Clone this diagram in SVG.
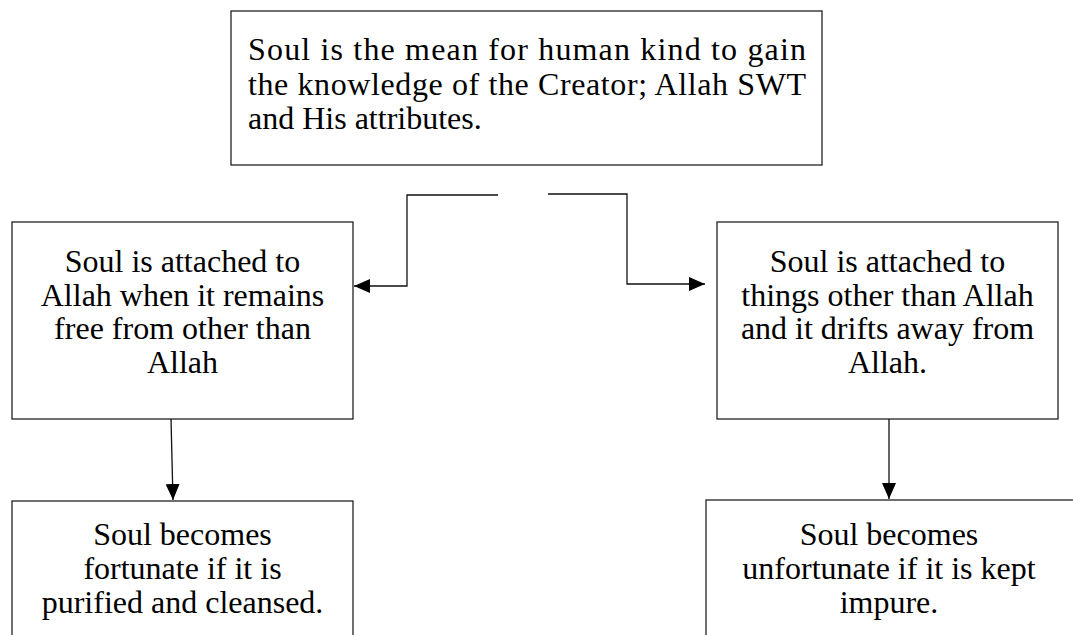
<svg xmlns="http://www.w3.org/2000/svg" width="1073" height="635" viewBox="0 0 1073 635">
<style>
.box{fill:#fff;stroke:#222;stroke-width:1.3}
.ln{fill:none;stroke:#111;stroke-width:1.3}
</style>
<defs>
<marker id="ah" markerUnits="userSpaceOnUse" markerWidth="16" markerHeight="14" refX="16" refY="7" orient="auto">
<path d="M0,0 L16,7 L0,14 Z" fill="#000"/>
</marker>
</defs>
<rect width="1073" height="635" fill="#fff"/>
<g id="top">
<rect class="box" x="231" y="11" width="591" height="154"/>
<text x="248" y="60" font-family="Liberation Serif" font-size="32" textLength="558" lengthAdjust="spacing">Soul is the mean for human kind to gain</text>
<text x="248" y="95" font-family="Liberation Serif" font-size="32" textLength="558" lengthAdjust="spacing">the knowledge of the Creator; Allah SWT</text>
<text x="248" y="129" font-family="Liberation Serif" font-size="32">and His attributes.</text>
</g>
<g id="left-mid">
<rect class="box" x="12" y="222" width="341" height="197"/>
<text x="182.5" y="272" font-family="Liberation Serif" font-size="32" text-anchor="middle">Soul is attached to</text>
<text x="182.5" y="305.5" font-family="Liberation Serif" font-size="32" text-anchor="middle">Allah when it remains</text>
<text x="182.5" y="339" font-family="Liberation Serif" font-size="32" text-anchor="middle">free from other than</text>
<text x="182.5" y="372.5" font-family="Liberation Serif" font-size="32" text-anchor="middle">Allah</text>
</g>
<g id="right-mid">
<rect class="box" x="717" y="222" width="341" height="197"/>
<text x="887.5" y="272" font-family="Liberation Serif" font-size="32" text-anchor="middle">Soul is attached to</text>
<text x="887.5" y="305.5" font-family="Liberation Serif" font-size="32" text-anchor="middle">things other than Allah</text>
<text x="887.5" y="339" font-family="Liberation Serif" font-size="32" text-anchor="middle">and it drifts away from</text>
<text x="887.5" y="372.5" font-family="Liberation Serif" font-size="32" text-anchor="middle">Allah.</text>
</g>
<g id="left-bottom">
<rect class="box" x="12" y="501" width="341" height="150"/>
<text x="182.5" y="545" font-family="Liberation Serif" font-size="32" text-anchor="middle">Soul becomes</text>
<text x="182.5" y="579" font-family="Liberation Serif" font-size="32" text-anchor="middle">fortunate if it is</text>
<text x="182.5" y="613" font-family="Liberation Serif" font-size="32" text-anchor="middle">purified and cleansed.</text>
</g>
<g id="right-bottom">
<rect class="box" x="706" y="500" width="380" height="150"/>
<text x="889" y="545" font-family="Liberation Serif" font-size="32" text-anchor="middle">Soul becomes</text>
<text x="889" y="579" font-family="Liberation Serif" font-size="32" text-anchor="middle">unfortunate if it is kept</text>
<text x="889" y="613" font-family="Liberation Serif" font-size="32" text-anchor="middle">impure.</text>
</g>
<g id="connectors">
<polyline class="ln" points="498,195 407,195 407,286 354,286" marker-end="url(#ah)"/>
<polyline class="ln" points="548,194 627,194 627,284 705,284" marker-end="url(#ah)"/>
<line class="ln" x1="171" y1="419" x2="173" y2="500" marker-end="url(#ah)"/>
<line class="ln" x1="889" y1="419" x2="889" y2="499" marker-end="url(#ah)"/>
</g>
</svg>
